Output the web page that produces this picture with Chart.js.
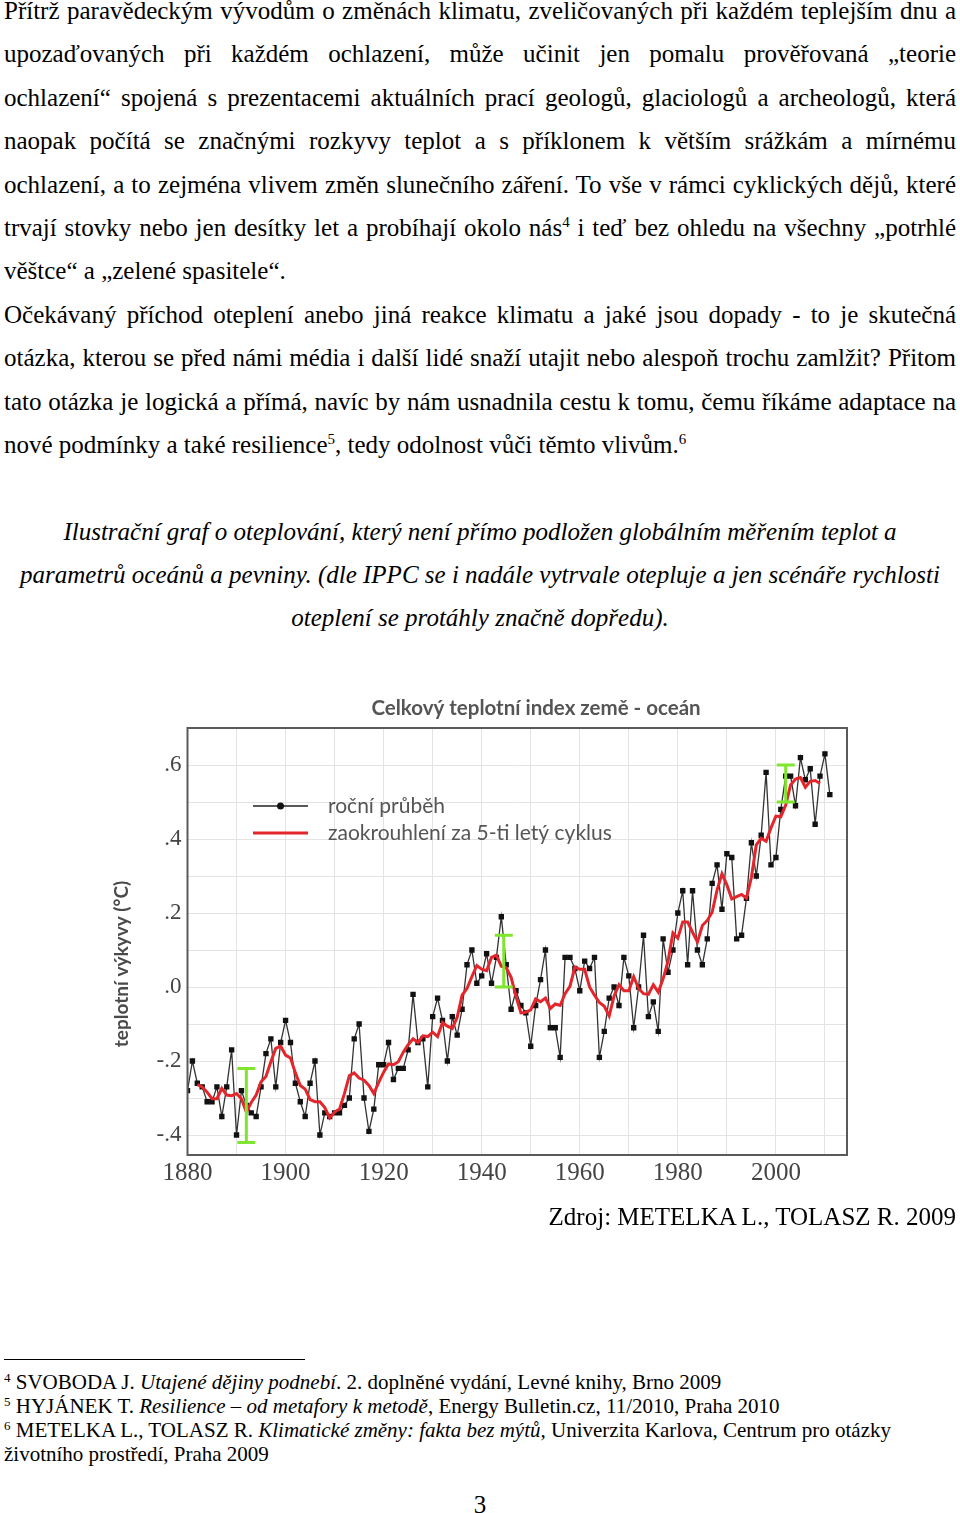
<!DOCTYPE html>
<html lang="cs"><head><meta charset="utf-8">
<script src="https://cdn.jsdelivr.net/npm/chart.js@4.4.1/dist/chart.umd.min.js"></script>
<style>
html,body{margin:0;padding:0;background:#fff;}
body{width:960px;height:1513px;position:relative;overflow:hidden;font-family:"Liberation Serif","Times New Roman",serif;color:#000;}
#text{position:absolute;left:4px;top:-11px;width:952px;font-family:"Liberation Serif",serif;font-size:25px;line-height:43.4px;}
#text div{height:43.4px;}
.j{text-align:justify;text-align-last:justify;}
.c{text-align:center;font-style:italic;}
sup{font-size:15px;vertical-align:9px;line-height:0;}
#chartbox{position:absolute;left:100px;top:690px;width:770px;height:510px;}
#zdroj{position:absolute;right:4px;top:1194.6px;font-family:"Liberation Serif",serif;font-size:25px;line-height:43.4px;}
#sep{position:absolute;left:4px;top:1359px;width:301px;height:1px;background:#000;}
#fn{position:absolute;left:4px;top:1369.6px;width:952px;font-family:"Liberation Serif",serif;font-size:21px;line-height:24.3px;}
#fn sup{font-size:13px;vertical-align:7px;}
#pg{position:absolute;left:0;width:960px;top:1483px;text-align:center;font-family:"Liberation Serif",serif;font-size:25px;line-height:43.4px;}
</style></head><body>
<div id="text">
<div class="j">Přítrž paravědeckým vývodům o změnách klimatu, zveličovaných při každém teplejším dnu a</div>
<div class="j">upozaďovaných při každém ochlazení, může učinit jen pomalu prověřovaná „teorie</div>
<div class="j">ochlazení“ spojená s prezentacemi aktuálních prací geologů, glaciologů a archeologů, která</div>
<div class="j">naopak počítá se značnými rozkyvy teplot a s příklonem k větším srážkám a mírnému</div>
<div class="j">ochlazení, a to zejména vlivem změn slunečního záření. To vše v rámci cyklických dějů, které</div>
<div class="j">trvají stovky nebo jen desítky let a probíhají okolo nás<sup>4</sup> i teď bez ohledu na všechny „potrhlé</div>
<div>věštce“ a „zelené spasitele“.</div>
<div class="j">Očekávaný příchod oteplení anebo jiná reakce klimatu a jaké jsou dopady - to je skutečná</div>
<div class="j">otázka, kterou se před námi média i další lidé snaží utajit nebo alespoň trochu zamlžit? Přitom</div>
<div class="j">tato otázka je logická a přímá, navíc by nám usnadnila cestu k tomu, čemu říkáme adaptace na</div>
<div>nové podmínky a také resilience<sup>5</sup>, tedy odolnost vůči těmto vlivům.<sup>6</sup></div>
<div></div>
<div class="c">Ilustrační graf o oteplování, který není přímo podložen globálním měřením teplot a</div>
<div class="c">parametrů oceánů a pevniny. (dle IPPC se i nadále vytrvale otepluje a jen scénáře rychlosti</div>
<div class="c">oteplení se protáhly značně dopředu).</div>
</div>
<div id="chartbox"><canvas id="c" width="770" height="510"></canvas></div>
<div id="zdroj">Zdroj: METELKA L., TOLASZ R. 2009</div>
<div id="sep"></div>
<div id="fn">
<div><sup>4</sup> SVOBODA J. <i>Utajené dějiny podnebí</i>. 2. doplněné vydání, Levné knihy, Brno 2009</div>
<div><sup>5</sup> HYJÁNEK T. <i>Resilience – od metafory k metodě</i>, Energy Bulletin.cz, 11/2010, Praha 2010</div>
<div><sup>6</sup> METELKA L., TOLASZ R. <i>Klimatické změny: fakta bez mýtů,</i> Univerzita Karlova, Centrum pro otázky</div>
<div>životního prostředí, Praha 2009</div>
</div>
<div id="pg">3</div>
<script>
// ---- data ----
const chartTitle = "Celkový teplotní index země - oceán";
const yAxisTitle = "teplotní výkyvy (°C)";
const legendLabels = ["roční průběh", "zaokrouhlení za 5-ti letý cyklus"];
const xTickLabels = ["1880","1900","1920","1940","1960","1980","2000"];
const yTickValues = [-0.4,-0.2,0,0.2,0.4,0.6];
const yTickLabels = ["-.4","-.2",".0",".2",".4",".6"];

const firstYear = 1880;
const annual = [
 -0.28,-0.20,-0.26,-0.27,-0.31,-0.31,-0.27,-0.35,-0.27,-0.17,
 -0.40,-0.28,-0.32,-0.34,-0.35,-0.27,-0.18,-0.14,-0.27,-0.15,
 -0.09,-0.15,-0.26,-0.31,-0.35,-0.26,-0.20,-0.40,-0.34,-0.35,
 -0.34,-0.34,-0.32,-0.30,-0.14,-0.10,-0.30,-0.39,-0.33,-0.21,
 -0.21,-0.15,-0.25,-0.22,-0.22,-0.17,-0.02,-0.15,-0.14,-0.27,
 -0.08,-0.03,-0.09,-0.20,-0.08,-0.13,-0.06, 0.06, 0.10, 0.01,
  0.03, 0.09, 0.01, 0.08, 0.19, 0.06,-0.06,-0.01,-0.05,-0.07,
 -0.16,-0.05, 0.02, 0.10,-0.11,-0.11,-0.19, 0.08, 0.08, 0.05,
 -0.01, 0.07, 0.05, 0.08,-0.19,-0.12,-0.03, 0.00,-0.05, 0.08,
  0.03,-0.11, 0.00, 0.14,-0.08,-0.04,-0.12, 0.13, 0.04, 0.10,
  0.20, 0.26, 0.06, 0.26, 0.10, 0.06, 0.13, 0.28, 0.33, 0.21,
  0.36, 0.35, 0.13, 0.14, 0.24, 0.39, 0.30, 0.41, 0.58, 0.33,
  0.35, 0.48, 0.57, 0.57, 0.49, 0.62, 0.56, 0.59, 0.44, 0.57,
  0.63, 0.52
];
const smoothFirstYear = 1882;
const smooth5 = [
 -0.264,-0.270,-0.284,-0.302,-0.302,-0.274,-0.292,-0.294,-0.288,-0.302,
 -0.338,-0.312,-0.292,-0.256,-0.242,-0.202,-0.166,-0.160,-0.184,-0.192,
 -0.232,-0.266,-0.276,-0.304,-0.310,-0.310,-0.326,-0.354,-0.338,-0.330,
 -0.288,-0.240,-0.232,-0.246,-0.252,-0.266,-0.288,-0.258,-0.230,-0.208,
 -0.210,-0.202,-0.176,-0.156,-0.140,-0.150,-0.132,-0.134,-0.122,-0.134,
 -0.096,-0.106,-0.112,-0.082,-0.022,-0.004, 0.028, 0.058, 0.048, 0.044,
  0.080, 0.086, 0.056, 0.052, 0.026,-0.026,-0.070,-0.068,-0.062,-0.032,
 -0.040,-0.030,-0.058,-0.046,-0.050,-0.018, 0.002, 0.054, 0.048, 0.048,
  0.000,-0.022,-0.042,-0.052,-0.078,-0.024, 0.006,-0.010,-0.010, 0.028,
 -0.004,-0.018,-0.020, 0.006,-0.014, 0.022, 0.070, 0.146, 0.132, 0.176,
  0.176, 0.148, 0.122, 0.166, 0.180, 0.202, 0.262, 0.306, 0.276, 0.238,
  0.244, 0.250, 0.240, 0.296, 0.384, 0.402, 0.394, 0.430, 0.462, 0.460,
  0.492, 0.546, 0.562, 0.566, 0.540, 0.556, 0.558, 0.550
];
const errYears = [1892, 1944.5, 2002];
const errLow   = [-0.42, 0.00, 0.50];
const errHigh  = [-0.22, 0.14, 0.60];

// ---- build datasets ----
const annualPts = annual.map((v,i)=>({x:firstYear+i, y:v}));
const smoothPts = smooth5.map((v,i)=>({x:smoothFirstYear+i, y:v}));

const overlay = {
  id:'overlay',
  afterDatasetsDraw(chart){
    const {ctx, scales:{x,y}} = chart;
    ctx.save();
    ctx.strokeStyle='#7fe52f'; ctx.lineWidth=3; ctx.lineCap='butt';
    for(let i=0;i<errYears.length;i++){
      const px=x.getPixelForValue(errYears[i]);
      const pt=y.getPixelForValue(errHigh[i]), pb=y.getPixelForValue(errLow[i]);
      ctx.beginPath();
      ctx.moveTo(px,pt); ctx.lineTo(px,pb);
      ctx.moveTo(px-9,pt); ctx.lineTo(px+9,pt);
      ctx.moveTo(px-9,pb); ctx.lineTo(px+9,pb);
      ctx.stroke();
    }
    ctx.restore();
  },
  afterDraw(chart){
    const {ctx, chartArea:a} = chart;
    ctx.save();
    ctx.strokeStyle='#5a5a5a'; ctx.lineWidth=2;
    ctx.strokeRect(a.left,a.top,a.right-a.left,a.bottom-a.top);
    // title
    ctx.fillStyle='#555';
    ctx.font='bold 20.5px Lato, "Open Sans", sans-serif';
    ctx.textAlign='center'; ctx.textBaseline='middle';
    ctx.fillText(chartTitle, a.left+348.5, a.top-20);
    // y title
    ctx.save();
    ctx.translate(a.left-65.5, a.top+236);
    ctx.rotate(-Math.PI/2);
    ctx.fillStyle='#4a4a4a';
    ctx.font='bold 19px Lato, "Open Sans", sans-serif';
    ctx.fillText(yAxisTitle,0,0);
    ctx.restore();
    // legend
    const lx=a.left+65.5, lw=55, ly1=a.top+78, ly2=a.top+105;
    ctx.strokeStyle='#222'; ctx.lineWidth=1.5;
    ctx.beginPath(); ctx.moveTo(lx,ly1); ctx.lineTo(lx+lw,ly1); ctx.stroke();
    ctx.fillStyle='#111';
    ctx.beginPath(); ctx.arc(lx+lw/2,ly1,3.5,0,Math.PI*2); ctx.fill();
    ctx.strokeStyle='#e3262b'; ctx.lineWidth=3;
    ctx.beginPath(); ctx.moveTo(lx,ly2); ctx.lineTo(lx+lw,ly2); ctx.stroke();
    ctx.fillStyle='#555';
    ctx.font='21px Lato, "Open Sans", sans-serif';
    ctx.textAlign='left';
    ctx.fillText(legendLabels[0], a.left+140.5, ly1);
    ctx.fillText(legendLabels[1], a.left+140.5, ly2);
    ctx.restore();
  }
};

new Chart(document.getElementById('c'), {
  type:'line',
  data:{datasets:[
    {label:legendLabels[1], data:smoothPts, borderColor:'#e3262b', borderWidth:3, pointRadius:0, tension:0, order:0},
    {label:legendLabels[0], data:annualPts, borderColor:'#333', borderWidth:1.3, pointStyle:'rect',
     pointRadius:3.8, pointBackgroundColor:'#111', pointBorderColor:'#111', pointBorderWidth:0, tension:0, order:1}
  ]},
  options:{
    responsive:false, animation:false,
    layout:{padding:{left:0,top:38,right:23,bottom:0}},
    plugins:{legend:{display:false}, title:{display:false}, tooltip:{enabled:false}},
    scales:{
      x:{type:'linear', min:1880, max:2014.5,
        afterFit(s){ s.height=45; },
        grid:{color:'#e3e3e3', lineWidth:1, drawTicks:false},
        border:{display:false},
        ticks:{stepSize:10, maxTicksLimit:30, autoSkip:false, includeBounds:false, maxRotation:0, padding:3,
          color:'#444', font:{family:'"Liberation Serif", serif', size:25},
          callback:(v)=> xTickLabels.includes(String(v)) ? String(v) : ''}
      },
      y:{type:'linear', min:-0.454, max:0.70,
        afterFit(s){ s.width=87.5; },
        grid:{color:'#e3e3e3', lineWidth:1, drawTicks:false},
        border:{display:false},
        ticks:{stepSize:0.1, maxTicksLimit:30, autoSkip:false, includeBounds:false, padding:6,
          color:'#444', font:{family:'"Liberation Serif", serif', size:23},
          callback:(v)=>{ const i=yTickValues.findIndex(t=>Math.abs(t-v)<1e-6); return i>=0 ? yTickLabels[i] : ''; }}
      }
    }
  },
  plugins:[overlay]
});
</script>
</body></html>
